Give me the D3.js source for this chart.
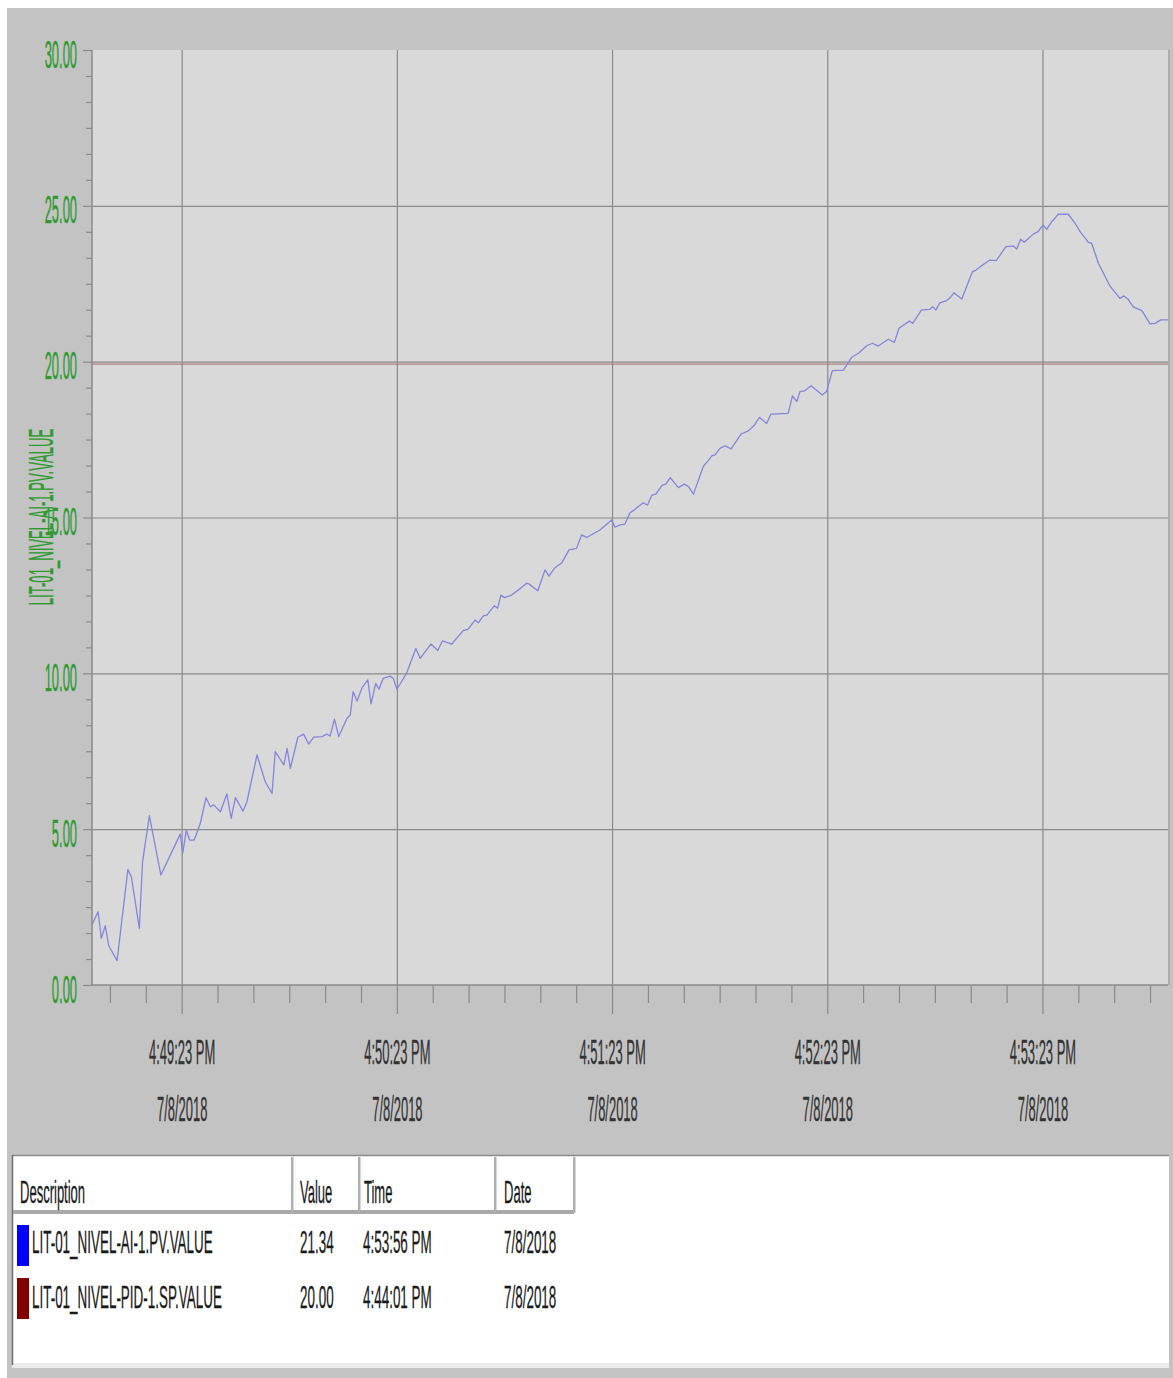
<!DOCTYPE html>
<html>
<head>
<meta charset="utf-8">
<script src="https://cdn.jsdelivr.net/npm/d3@7"></script>
<style>
  html, body { margin: 0; padding: 0; background: #ffffff; }
  svg { display: block; }
  text { font-family: "Liberation Sans", Arial, sans-serif; }
</style>
</head>
<body>
<svg id="chart" width="1173" height="1378"></svg>
<script>
// Left edge of the trend window and its length
const trendStart = "2018-07-08T16:48:58";
const trendSpanSeconds = 300;

// LIT-01_NIVEL-AI-1.PV.VALUE samples: seconds after trendStart, and tank level
const pvSeconds = [
  0.0, 1.7, 2.6, 3.7, 4.7, 7.0, 10.0, 11.0, 13.2, 14.1, 16.0, 19.2, 24.6, 25.3, 26.3, 27.2,
  28.5, 30.2, 31.8, 33.0, 33.9, 35.8, 37.6, 38.8, 40.0, 42.1, 43.2, 46.0, 48.3, 50.2, 51.1, 53.5,
  54.4, 55.3, 57.4, 59.0, 60.4, 61.8, 64.1, 65.5, 66.4, 67.6, 68.8, 71.1, 72.0, 72.8, 73.9, 75.3,
  76.9, 77.8, 79.1, 80.0, 81.2, 83.1, 84.0, 85.0, 87.7, 90.3, 91.5, 94.5, 96.4, 97.7, 100.3, 103.5,
  104.8, 106.8, 107.7, 109.1, 110.1, 112.2, 113.1, 114.0, 115.0, 117.0, 119.3, 121.2, 121.8, 124.3,
  126.3, 127.4, 128.9, 131.0, 133.0, 135.1, 136.5, 137.9, 141.6, 144.9, 145.8, 147.2, 148.6, 150.0,
  150.9, 153.7, 154.9, 156.1, 157.2, 159.0, 160.0, 161.2, 163.5, 165.1, 166.3, 167.7, 170.4, 171.7,
  172.8, 173.7, 175.1, 176.5, 178.2, 181.0, 183.0, 184.7, 186.1, 188.1, 189.3, 194.1, 195.3, 196.5,
  197.4, 198.6, 200.5, 203.6, 204.8, 206.4, 209.5, 211.8, 213.7, 216.0, 217.6, 219.2, 222.0, 223.7,
  225.0, 227.9, 228.8, 231.3, 233.6, 234.4, 235.3, 236.4, 238.3, 239.4, 240.3, 242.5, 245.5, 246.5,
  248.3, 250.4, 252.1, 254.8, 256.9, 257.8, 258.9, 259.9, 262.5, 263.8, 264.8, 265.2, 266.2, 267.6,
  269.4, 272.2, 274.1, 275.5, 277.8, 278.7, 280.6, 283.8, 286.6, 287.7, 288.9, 290.3, 292.7, 295.0,
  296.4, 298.0
];
const pvValues = [
  1.93, 2.35, 1.50, 1.90, 1.25, 0.78, 3.71, 3.46, 1.82, 3.96, 5.43, 3.53, 4.84, 4.23, 4.97, 4.65,
  4.65, 5.19, 6.01, 5.72, 5.78, 5.56, 6.13, 5.35, 6.01, 5.58, 5.88, 7.38, 6.52, 6.15, 7.49, 7.06,
  7.59, 6.95, 7.95, 8.05, 7.73, 7.95, 7.97, 8.05, 7.99, 8.53, 7.97, 8.56, 8.66, 9.41, 9.11, 9.54,
  9.79, 9.02, 9.68, 9.49, 9.84, 9.91, 9.84, 9.49, 10.00, 10.80, 10.48, 10.94, 10.73, 11.04, 10.94, 11.37,
  11.41, 11.71, 11.62, 11.84, 11.87, 12.17, 12.09, 12.51, 12.43, 12.51, 12.71, 12.89, 12.87, 12.65,
  13.32, 13.12, 13.37, 13.55, 13.96, 14.01, 14.44, 14.36, 14.60, 14.92, 14.69, 14.76, 14.79, 15.15,
  15.22, 15.47, 15.40, 15.72, 15.75, 16.04, 16.07, 16.28, 15.96, 16.07, 15.99, 15.75, 16.63, 16.81,
  16.98, 17.01, 17.22, 17.30, 17.20, 17.68, 17.78, 17.97, 18.21, 18.02, 18.32, 18.34, 18.90, 18.72,
  19.04, 19.06, 19.23, 18.93, 19.04, 19.71, 19.73, 20.14, 20.27, 20.51, 20.59, 20.50, 20.72, 20.62,
  21.07, 21.30, 21.23, 21.66, 21.68, 21.76, 21.66, 21.89, 21.96, 22.07, 22.21, 22.01, 22.89, 22.94,
  23.10, 23.26, 23.24, 23.69, 23.71, 23.61, 23.93, 23.83, 24.10, 24.17, 24.33, 24.38, 24.25, 24.49,
  24.73, 24.73, 24.44, 24.17, 23.83, 23.80, 23.16, 22.43, 22.03, 22.11, 22.00, 21.76, 21.64, 21.21,
  21.23, 21.34
];

// LIT-01_NIVEL-PID-1.SP.VALUE (constant setpoint over the window)
const spValue = 20.00;

// Axis ticks
const yTicks = [0, 5, 10, 15, 20, 25, 30];
const xTickTimes = ["16:49:23", "16:50:23", "16:51:23", "16:52:23", "16:53:23"];

// Legend table
const legendHeaders = ["Description", "Value", "Time", "Date"];
const legendNames = ["LIT-01_NIVEL-AI-1.PV.VALUE", "LIT-01_NIVEL-PID-1.SP.VALUE"];
const legendValues = ["21.34", "20.00"];
const legendTimes = ["4:53:56 PM", "4:44:01 PM"];
const legendDates = ["7/8/2018", "7/8/2018"];
const legendColors = ["#0000ff", "#800000"];
const yAxisTitle = "LIT-01_NIVEL-AI-1.PV.VALUE";

// ---------------------------------------------------------------------------
const svg = d3.select("#chart");
const plot = { left: 92, top: 50, right: 1168, bottom: 985 };
const plotW = plot.right - plot.left;
const plotH = plot.bottom - plot.top;

const t0 = new Date(trendStart);
const tEnd = new Date(t0.getTime() + trendSpanSeconds * 1000);
const atOffset = s => new Date(t0.getTime() + s * 1000);
const dateOf = hms => new Date("2018-07-08T" + hms);

const x = d3.scaleTime().domain([t0, tEnd]).range([plot.left, plot.right]);
const y = d3.scaleLinear().domain([0, 30]).range([plot.bottom, plot.top]);

const fmtTime = d3.timeFormat("%-I:%M:%S %p");
const fmtDate = d3.timeFormat("%-m/%-d/%Y");

const pvData = pvSeconds.map((s, i) => ({ time: atOffset(s), value: pvValues[i] }));

// Panel backgrounds
svg.append("rect").attr("x", 7).attr("y", 8).attr("width", 1166).attr("height", 1370)
  .attr("fill", "#c3c3c3");
svg.append("rect").attr("x", plot.left).attr("y", plot.top).attr("width", plotW).attr("height", plotH)
  .attr("fill", "#d9d9d9");
svg.append("line").attr("x1", plot.right + 1).attr("x2", plot.right + 1)
  .attr("y1", plot.top).attr("y2", plot.bottom)
  .attr("stroke", "#ababab").attr("stroke-width", 2);

// Grid lines
const majorX = xTickTimes.map(dateOf);
const gx = svg.append("g").attr("transform", `translate(0,${plot.bottom})`)
  .call(d3.axisBottom(x).tickValues(majorX).tickSize(-plotH).tickFormat(""));
gx.select(".domain").remove();
gx.selectAll(".tick line").attr("stroke", "#8a8a8a").attr("stroke-width", 1.2);

const gy = svg.append("g").attr("transform", `translate(${plot.left},0)`)
  .call(d3.axisLeft(y).tickValues(yTicks.filter(v => v > 0 && v < 30)).tickSize(-plotW).tickFormat(""));
gy.select(".domain").remove();
gy.selectAll(".tick line").attr("stroke", "#8a8a8a").attr("stroke-width", 1.2);

// Setpoint trace
const line = d3.line().x(d => x(d.time)).y(d => y(d.value));
svg.append("path")
  .datum([{ time: t0, value: spValue }, { time: tEnd, value: spValue }])
  .attr("d", line).attr("fill", "none")
  .attr("stroke", "#a0706c").attr("stroke-opacity", 0.8).attr("stroke-width", 1.3)
  .attr("transform", "translate(0,2.5)");

// Process value trace, held at the last sample up to the right edge
const pvTrace = pvData.concat([{ time: tEnd, value: pvValues[pvValues.length - 1] }]);
svg.append("path").datum(pvTrace).attr("d", line)
  .attr("fill", "none").attr("stroke", "#8585dc").attr("stroke-width", 1.3)
  .attr("stroke-linejoin", "round");

// Axis lines
svg.append("line").attr("x1", plot.left).attr("x2", plot.left).attr("y1", plot.top).attr("y2", plot.bottom)
  .attr("stroke", "#8a8a8a").attr("stroke-width", 1.5);
svg.append("line").attr("x1", plot.left).attr("x2", plot.right).attr("y1", plot.bottom).attr("y2", plot.bottom)
  .attr("stroke", "#8a8a8a").attr("stroke-width", 1.5);

// Y axis: major ticks with labels, minor ticks every 5/6 unit
const yMinor = d3.range(1, 36).filter(i => i % 6 !== 0).map(i => i * 5 / 6);
const yMinorAxis = svg.append("g").attr("transform", `translate(${plot.left},0)`)
  .call(d3.axisLeft(y).tickValues(yMinor).tickSize(6).tickFormat(""));
yMinorAxis.select(".domain").remove();
yMinorAxis.selectAll(".tick line").attr("stroke", "#8a8a8a").attr("stroke-width", 1.2);

const yAxis = svg.append("g").attr("transform", `translate(${plot.left},0)`)
  .call(d3.axisLeft(y).tickValues(yTicks).tickSize(9).tickFormat(""));
yAxis.select(".domain").remove();
yAxis.selectAll(".tick line").attr("stroke", "#8a8a8a").attr("stroke-width", 1.2);
yAxis.selectAll(".tick text").remove();
yAxis.selectAll(".tick").append("text")
  .attr("transform", "translate(-15,17) scale(0.34,1)")
  .attr("text-anchor", "end")
  .attr("font-size", 38)
  .attr("fill", "#2f9a30")
  .attr("stroke", "#2f9a30").attr("stroke-width", 0.4)
  .text(d => d3.format(".2f")(d));

// Y axis title
svg.append("text")
  .attr("transform", "translate(53,517) rotate(-90) scale(0.375,1)")
  .attr("text-anchor", "middle")
  .attr("font-size", 35)
  .attr("fill", "#2f9a30")
  .attr("stroke", "#2f9a30").attr("stroke-width", 0.4)
  .text(yAxisTitle);

// X axis: minor ticks every 10 s, majors each minute with time and date
const xMinor = d3.range(5, trendSpanSeconds, 10).filter(s => (s - 25) % 60 !== 0).map(atOffset);
const xMinorAxis = svg.append("g").attr("transform", `translate(0,${plot.bottom})`)
  .call(d3.axisBottom(x).tickValues(xMinor).tickSize(18).tickFormat(""));
xMinorAxis.select(".domain").remove();
xMinorAxis.selectAll(".tick line").attr("stroke", "#8a8a8a").attr("stroke-width", 1.2);

const xAxis = svg.append("g").attr("transform", `translate(0,${plot.bottom})`)
  .call(d3.axisBottom(x).tickValues(majorX).tickSize(29).tickFormat(""));
xAxis.select(".domain").remove();
xAxis.selectAll(".tick line").attr("stroke", "#8a8a8a").attr("stroke-width", 1.2);
xAxis.selectAll(".tick text").remove();
xAxis.selectAll(".tick").append("text")
  .attr("transform", "translate(0,79) scale(0.37,1)")
  .attr("text-anchor", "middle").attr("font-size", 35).attr("fill", "#333333")
  .attr("stroke", "#333333").attr("stroke-width", 0.3)
  .text(d => fmtTime(d));
xAxis.selectAll(".tick").append("text")
  .attr("transform", "translate(0,136) scale(0.37,1)")
  .attr("text-anchor", "middle").attr("font-size", 35).attr("fill", "#333333")
  .attr("stroke", "#333333").attr("stroke-width", 0.3)
  .text(d => fmtDate(d));

// Legend table
const table = svg.append("g");
table.append("rect").attr("x", 12).attr("y", 1155).attr("width", 1157).attr("height", 208).attr("fill", "#ffffff");
table.append("rect").attr("x", 12).attr("y", 1363).attr("width", 1157).attr("height", 5).attr("fill", "#ebebeb");
table.append("line").attr("x1", 12).attr("x2", 1169).attr("y1", 1155.5).attr("y2", 1155.5)
  .attr("stroke", "#8a8a8a").attr("stroke-width", 1.5);
table.append("line").attr("x1", 12.5).attr("x2", 12.5).attr("y1", 1155).attr("y2", 1365)
  .attr("stroke", "#6e6e6e").attr("stroke-width", 1.5);

const colLeft = [13, 293, 360, 496];
const colRight = [292, 359, 495, 574];
const textX = [20, 300, 364, 504];
const tScale = 0.42;

// Header cells with a raised edge
table.append("rect").attr("x", 13).attr("y", 1210).attr("width", 561).attr("height", 4).attr("fill", "#a9a9a9");
colRight.forEach(r => {
  table.append("rect").attr("x", r - 1).attr("y", 1157).attr("width", 2.5).attr("height", 56).attr("fill", "#b0b0b0");
});
colLeft.slice(1).forEach(l => {
  table.append("line").attr("x1", l + 2).attr("x2", l + 2).attr("y1", 1158).attr("y2", 1210)
    .attr("stroke", "#f4f4f4").attr("stroke-width", 1);
});
legendHeaders.forEach((h, i) => {
  table.append("text")
    .attr("transform", `translate(${textX[i]},1203) scale(${tScale},1)`)
    .attr("font-size", 31).attr("fill", "#1a1a1a")
    .attr("stroke", "#1a1a1a").attr("stroke-width", 0.3).text(h);
});

const rowBase = [1253, 1308];
const rowTop = [1225, 1278];
legendNames.forEach((name, i) => {
  table.append("rect").attr("x", 17).attr("y", rowTop[i]).attr("width", 12).attr("height", 41)
    .attr("fill", legendColors[i]);
  const cells = [name, legendValues[i], legendTimes[i], legendDates[i]];
  const cx = [32, 300, 363, 504];
  cells.forEach((c, j) => {
    table.append("text")
      .attr("transform", `translate(${cx[j]},${rowBase[i]}) scale(${tScale},1)`)
      .attr("font-size", 32).attr("fill", "#1a1a1a")
      .attr("stroke", "#1a1a1a").attr("stroke-width", 0.3).text(c);
  });
});
</script>
</body>
</html>
